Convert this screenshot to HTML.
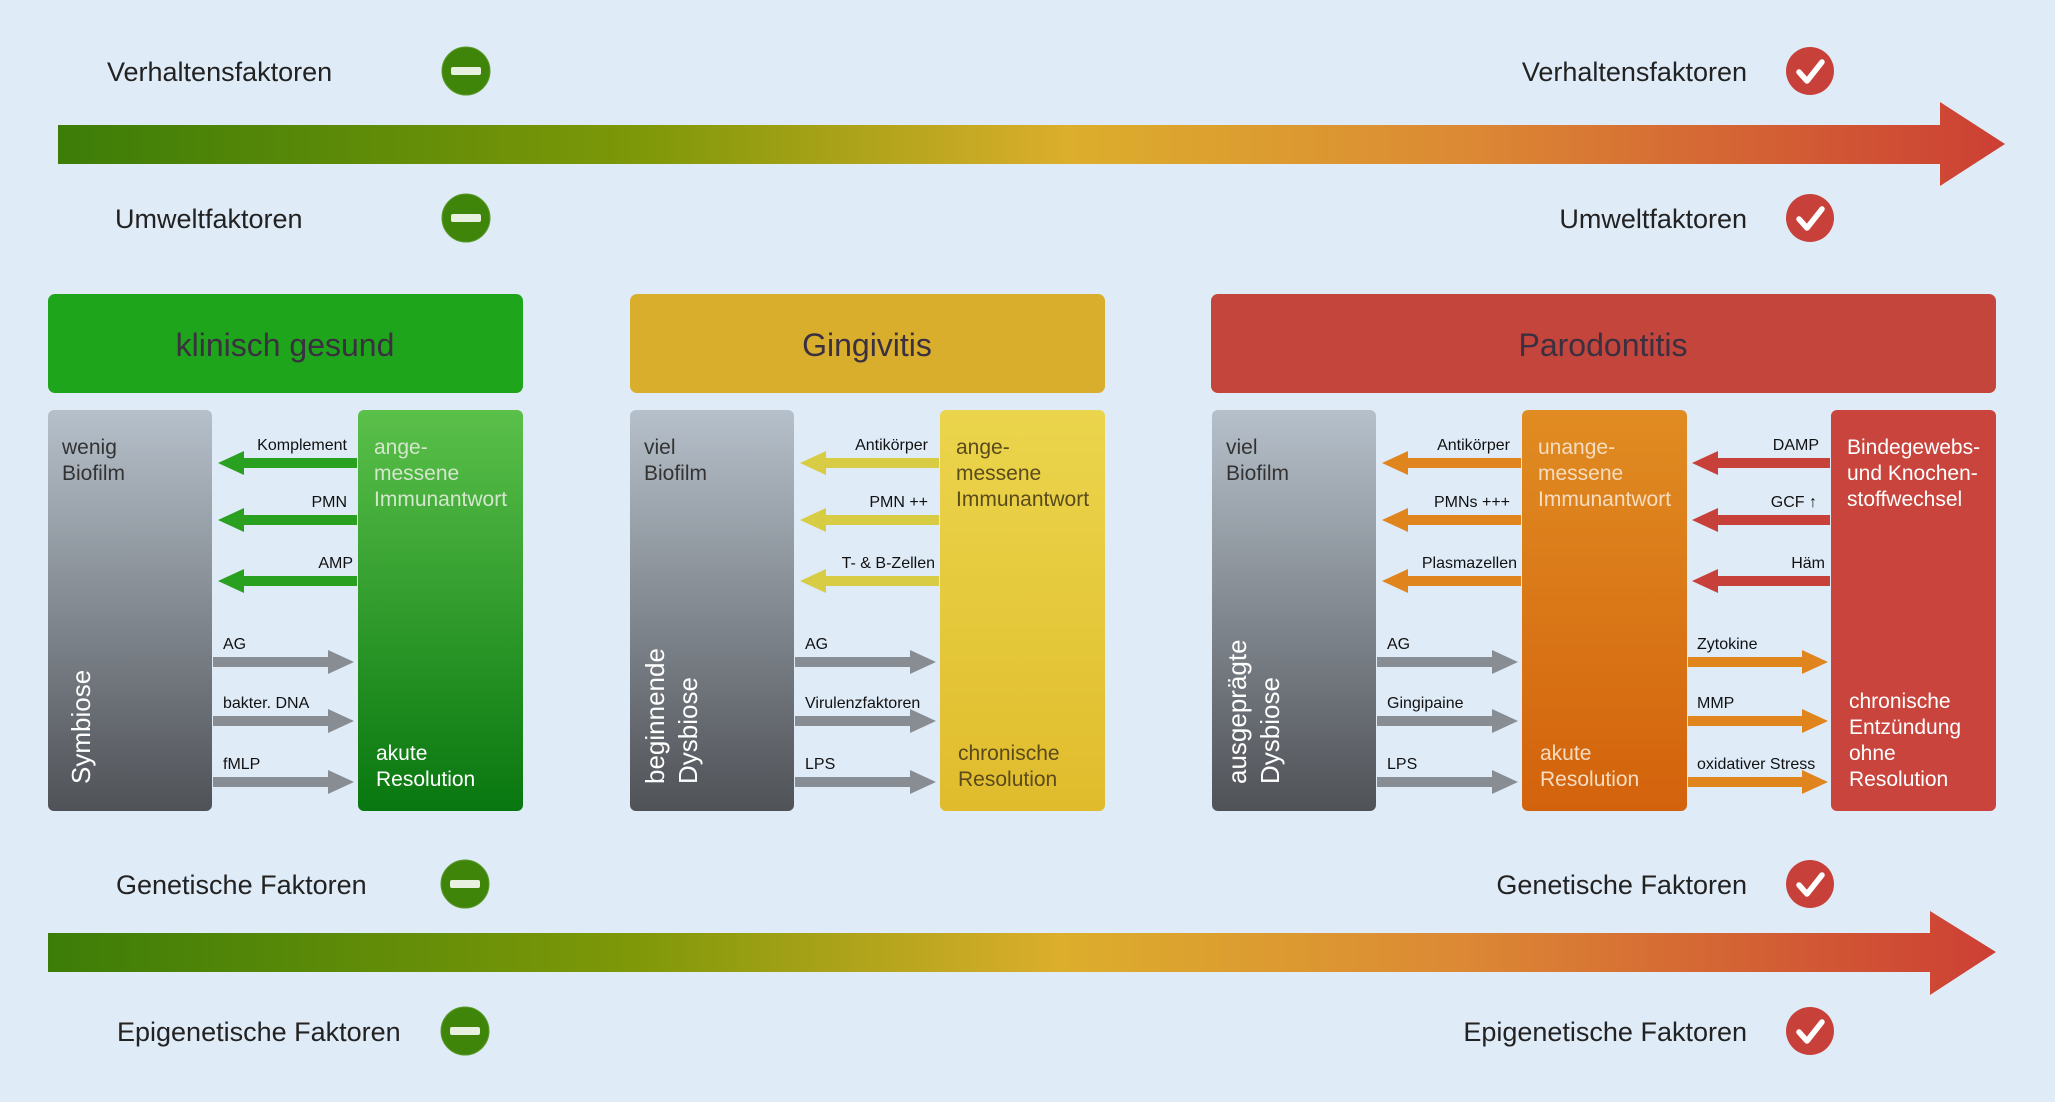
<!DOCTYPE html>
<html><head><meta charset="utf-8"><style>
html,body{margin:0;padding:0;background:#dfebf7;}
svg{display:block;font-family:"Liberation Sans",Arial,sans-serif;}
</style></head><body>
<svg width="2055" height="1102" viewBox="0 0 2055 1102" xmlns="http://www.w3.org/2000/svg">
<defs>
<linearGradient id="ag" x1="0" x2="1" y1="0" y2="0">
<stop offset="0" stop-color="#3c7d08"/><stop offset="0.3" stop-color="#7e9808"/>
<stop offset="0.52" stop-color="#dcae2c"/><stop offset="0.72" stop-color="#dc8a34"/>
<stop offset="1" stop-color="#cc3f34"/></linearGradient>
<linearGradient id="gray" x1="0" x2="0" y1="0" y2="1"><stop offset="0" stop-color="#b6c0ca"/><stop offset="1" stop-color="#4f5257"/></linearGradient>
<linearGradient id="grn" x1="0" x2="0" y1="0" y2="1"><stop offset="0" stop-color="#5ac04a"/><stop offset="1" stop-color="#08770f"/></linearGradient>
<linearGradient id="yel" x1="0" x2="0" y1="0" y2="1"><stop offset="0" stop-color="#ebd54c"/><stop offset="1" stop-color="#e0bc2c"/></linearGradient>
<linearGradient id="org" x1="0" x2="0" y1="0" y2="1"><stop offset="0" stop-color="#e08c22"/><stop offset="1" stop-color="#d3620c"/></linearGradient>
<g id="minus"><circle r="24" fill="#3f8509" stroke="#5a9a2a" stroke-width="1"/><rect x="-15" y="-4" width="30" height="8" rx="2" fill="#e8f0e0"/></g>
<g id="check"><circle r="24" fill="#c8403a"/><path d="M-11,1 L-3,10 L12,-9" fill="none" stroke="#fff" stroke-width="5.5" stroke-linecap="round" stroke-linejoin="round"/></g>
</defs>

<!-- top factors -->
<g font-size="27" fill="#222">
<text x="107" y="81">Verhaltensfaktoren</text>
<text x="115" y="228">Umweltfaktoren</text>
<text x="1747" y="81" text-anchor="end">Verhaltensfaktoren</text>
<text x="1747" y="228" text-anchor="end">Umweltfaktoren</text>
<text x="116" y="894">Genetische Faktoren</text>
<text x="117" y="1041">Epigenetische Faktoren</text>
<text x="1747" y="894" text-anchor="end">Genetische Faktoren</text>
<text x="1747" y="1041" text-anchor="end">Epigenetische Faktoren</text>
</g>
<use href="#minus" x="466" y="71"/><use href="#minus" x="466" y="218"/>
<use href="#minus" x="465" y="884"/><use href="#minus" x="465" y="1031"/>
<use href="#check" x="1810" y="71"/><use href="#check" x="1810" y="218"/>
<use href="#check" x="1810" y="884"/><use href="#check" x="1810" y="1031"/>

<!-- big arrows -->
<path d="M58,125 L1940,125 L1940,102 L2005,144 L1940,186 L1940,164 L58,164 Z" fill="url(#ag)"/>
<path d="M48,933 L1930,933 L1930,911 L1996,952 L1930,995 L1930,972 L48,972 Z" fill="url(#ag)"/>

<!-- headers -->
<rect x="48" y="294" width="475" height="99" rx="7" fill="#1fa51b"/>
<rect x="630" y="294" width="475" height="99" rx="7" fill="#d9ae2c"/>
<rect x="1211" y="294" width="785" height="99" rx="7" fill="#c4453c"/>
<g font-size="32" fill="#3a3040" text-anchor="middle">
<text x="285" y="356">klinisch gesund</text>
<text x="867" y="356">Gingivitis</text>
<text x="1603" y="356">Parodontitis</text>
</g>

<!-- boxes -->
<rect x="48" y="410" width="164" height="401" rx="6" fill="url(#gray)"/>
<rect x="358" y="410" width="165" height="401" rx="6" fill="url(#grn)"/>
<rect x="630" y="410" width="164" height="401" rx="6" fill="url(#gray)"/>
<rect x="940" y="410" width="165" height="401" rx="6" fill="url(#yel)"/>
<rect x="1212" y="410" width="164" height="401" rx="6" fill="url(#gray)"/>
<rect x="1522" y="410" width="165" height="401" rx="6" fill="url(#org)"/>
<rect x="1831" y="410" width="165" height="401" rx="6" fill="#c8443c"/>

<!-- box texts -->
<g font-size="21" fill="#333">
<text x="62" y="454">wenig</text><text x="62" y="480">Biofilm</text>
<text x="644" y="454">viel</text><text x="644" y="480">Biofilm</text>
<text x="1226" y="454">viel</text><text x="1226" y="480">Biofilm</text>
</g>
<g font-size="26" fill="#fff">
<text transform="translate(90,784) rotate(-90)">Symbiose</text>
<text transform="translate(664,784) rotate(-90)">beginnende</text>
<text transform="translate(697,784) rotate(-90)">Dysbiose</text>
<text transform="translate(1246,784) rotate(-90)">ausgeprägte</text>
<text transform="translate(1279,784) rotate(-90)">Dysbiose</text>
</g>
<g font-size="21">
<g fill="#d4e6cc"><text x="374" y="454">ange-</text><text x="374" y="480">messene</text><text x="374" y="506">Immunantwort</text></g>
<g fill="#fff"><text x="376" y="760">akute</text><text x="376" y="786">Resolution</text></g>
<g fill="#5a4a1c"><text x="956" y="454">ange-</text><text x="956" y="480">messene</text><text x="956" y="506">Immunantwort</text>
<text x="958" y="760">chronische</text><text x="958" y="786">Resolution</text></g>
<g fill="#f6dcc0"><text x="1538" y="454">unange-</text><text x="1538" y="480">messene</text><text x="1538" y="506">Immunantwort</text>
<text x="1540" y="760">akute</text><text x="1540" y="786">Resolution</text></g>
<g fill="#fff"><text x="1847" y="454">Bindegewebs-</text><text x="1847" y="480">und Knochen-</text><text x="1847" y="506">stoffwechsel</text>
<text x="1849" y="708">chronische</text><text x="1849" y="734">Entzündung</text><text x="1849" y="760">ohne</text><text x="1849" y="786">Resolution</text></g>
</g>

<!-- section 1 arrows -->
<g fill="#2aa020">
<polygon points="218,463 244,451 244,458 357,458 357,468 244,468 244,475"/>
<polygon points="218,520 244,508 244,515 357,515 357,525 244,525 244,532"/>
<polygon points="218,581 244,569 244,576 357,576 357,586 244,586 244,593"/>
</g>
<g fill="#878d93">
<polygon points="213,657 328,657 328,650 354,662 328,674 328,667 213,667"/>
<polygon points="213,716 328,716 328,709 354,721 328,733 328,726 213,726"/>
<polygon points="213,777 328,777 328,770 354,782 328,794 328,787 213,787"/>
</g>
<!-- section 2 arrows -->
<g fill="#d8cc44">
<polygon points="800,463 826,451 826,458 939,458 939,468 826,468 826,475"/>
<polygon points="800,520 826,508 826,515 939,515 939,525 826,525 826,532"/>
<polygon points="800,581 826,569 826,576 939,576 939,586 826,586 826,593"/>
</g>
<g fill="#878d93">
<polygon points="795,657 910,657 910,650 936,662 910,674 910,667 795,667"/>
<polygon points="795,716 910,716 910,709 936,721 910,733 910,726 795,726"/>
<polygon points="795,777 910,777 910,770 936,782 910,794 910,787 795,787"/>
</g>
<!-- section 3 arrows -->
<g fill="#e0841e">
<polygon points="1382,463 1408,451 1408,458 1521,458 1521,468 1408,468 1408,475"/>
<polygon points="1382,520 1408,508 1408,515 1521,515 1521,525 1408,525 1408,532"/>
<polygon points="1382,581 1408,569 1408,576 1521,576 1521,586 1408,586 1408,593"/>
<polygon points="1688,657 1802,657 1802,650 1828,662 1802,674 1802,667 1688,667"/>
<polygon points="1688,716 1802,716 1802,709 1828,721 1802,733 1802,726 1688,726"/>
<polygon points="1688,777 1802,777 1802,770 1828,782 1802,794 1802,787 1688,787"/>
</g>
<g fill="#878d93">
<polygon points="1377,657 1492,657 1492,650 1518,662 1492,674 1492,667 1377,667"/>
<polygon points="1377,716 1492,716 1492,709 1518,721 1492,733 1492,726 1377,726"/>
<polygon points="1377,777 1492,777 1492,770 1518,782 1492,794 1492,787 1377,787"/>
</g>
<g fill="#c8403a">
<polygon points="1692,463 1718,451 1718,458 1830,458 1830,468 1718,468 1718,475"/>
<polygon points="1692,520 1718,508 1718,515 1830,515 1830,525 1718,525 1718,532"/>
<polygon points="1692,581 1718,569 1718,576 1830,576 1830,586 1718,586 1718,593"/>
</g>

<!-- arrow labels -->
<g font-size="16" fill="#111">
<g text-anchor="end">
<text x="347" y="450">Komplement</text><text x="347" y="507">PMN</text><text x="353" y="568">AMP</text>
<text x="928" y="450">Antikörper</text><text x="928" y="507">PMN ++</text><text x="935" y="568">T- &amp; B-Zellen</text>
<text x="1510" y="450">Antikörper</text><text x="1510" y="507">PMNs +++</text><text x="1517" y="568">Plasmazellen</text>
<text x="1819" y="450">DAMP</text><text x="1817" y="507">GCF ↑</text><text x="1825" y="568">Häm</text>
</g>
<text x="223" y="649">AG</text><text x="223" y="708">bakter. DNA</text><text x="223" y="769">fMLP</text>
<text x="805" y="649">AG</text><text x="805" y="708">Virulenzfaktoren</text><text x="805" y="769">LPS</text>
<text x="1387" y="649">AG</text><text x="1387" y="708">Gingipaine</text><text x="1387" y="769">LPS</text>
<text x="1697" y="649">Zytokine</text><text x="1697" y="708">MMP</text><text x="1697" y="769">oxidativer Stress</text>
</g>
</svg>
</body></html>
